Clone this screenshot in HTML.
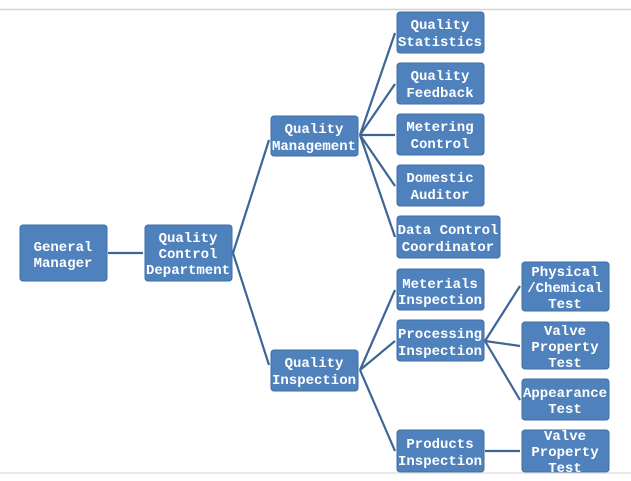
<!DOCTYPE html>
<html><head><meta charset="utf-8"><style>
html,body{margin:0;padding:0;background:#fff;width:631px;height:481px;overflow:hidden}
svg{display:block}
text{font-family:"Liberation Mono",monospace;font-weight:bold;font-size:14px;fill:#fff;text-anchor:middle}
</style></head><body>
<svg width="631" height="481" xmlns="http://www.w3.org/2000/svg">
<rect width="631" height="481" fill="#fff"/>
<line x1="0" y1="9.5" x2="631" y2="9.5" stroke="#d4d4d4" stroke-width="1.5"/>
<g stroke="#3d6596" stroke-width="2.2" fill="none">
<line x1="108" y1="253" x2="143" y2="253"/>
<line x1="233" y1="253" x2="269" y2="140"/>
<line x1="233" y1="253" x2="269" y2="365"/>
<line x1="360" y1="135" x2="395" y2="33"/>
<line x1="360" y1="135" x2="395" y2="84"/>
<line x1="360" y1="135" x2="395" y2="135"/>
<line x1="360" y1="135" x2="395" y2="186"/>
<line x1="360" y1="135" x2="395" y2="237"/>
<line x1="360" y1="370" x2="395" y2="290"/>
<line x1="360" y1="370" x2="395" y2="341"/>
<line x1="360" y1="370" x2="395" y2="451"/>
<line x1="485" y1="341" x2="520" y2="286"/>
<line x1="485" y1="341" x2="520" y2="346"/>
<line x1="485" y1="341" x2="520" y2="400"/>
<line x1="485" y1="451" x2="520" y2="451"/>
</g>
<g fill="#4f81bd" stroke="#3e6ea8" stroke-width="1">
<rect x="20" y="225" width="87" height="56" rx="3"/>
<rect x="145" y="225" width="87" height="56" rx="3"/>
<rect x="271" y="116" width="87" height="40" rx="3"/>
<rect x="271" y="350" width="87" height="41" rx="3"/>
<rect x="397" y="12" width="87" height="41" rx="3"/>
<rect x="397" y="63" width="87" height="41" rx="3"/>
<rect x="397" y="114" width="87" height="41" rx="3"/>
<rect x="397" y="165" width="87" height="41" rx="3"/>
<rect x="397" y="216" width="103" height="42" rx="3"/>
<rect x="397" y="269" width="87" height="41" rx="3"/>
<rect x="397" y="320" width="87" height="41" rx="3"/>
<rect x="397" y="430" width="87" height="42" rx="3"/>
<rect x="522" y="262" width="87" height="49" rx="3"/>
<rect x="522" y="322" width="87" height="47" rx="3"/>
<rect x="522" y="379" width="87" height="41" rx="3"/>
<rect x="522" y="430" width="87" height="42" rx="3"/>
</g>
<text x="63" y="251">General</text><text x="63" y="267">Manager</text>
<text x="188" y="242">Quality</text><text x="188" y="258">Control</text><text x="188" y="274">Department</text>
<text x="314" y="133">Quality</text><text x="314" y="150">Management</text>
<text x="314" y="367">Quality</text><text x="314" y="384">Inspection</text>
<text x="440" y="29">Quality</text><text x="440" y="46">Statistics</text>
<text x="440" y="80">Quality</text><text x="440" y="97">Feedback</text>
<text x="440" y="131">Metering</text><text x="440" y="148">Control</text>
<text x="440" y="182">Domestic</text><text x="440" y="199">Auditor</text>
<text x="448" y="234">Data Control</text><text x="448" y="251">Coordinator</text>
<text x="440" y="288">Meterials</text><text x="440" y="304">Inspection</text>
<text x="440" y="338">Processing</text><text x="440" y="355">Inspection</text>
<text x="440" y="448">Products</text><text x="440" y="465">Inspection</text>
<text x="565" y="276">Physical</text><text x="565" y="292">/Chemical</text><text x="565" y="308">Test</text>
<text x="565" y="335">Valve</text><text x="565" y="351">Property</text><text x="565" y="367">Test</text>
<text x="565" y="397">Appearance</text><text x="565" y="413">Test</text>
<text x="565" y="440">Valve</text><text x="565" y="456">Property</text><text x="565" y="472">Test</text>
<rect x="0" y="473" width="631" height="8" fill="#fff"/>
<line x1="0" y1="473" x2="631" y2="473" stroke="#dcdcdc" stroke-width="1.2"/>
</svg>
</body></html>
